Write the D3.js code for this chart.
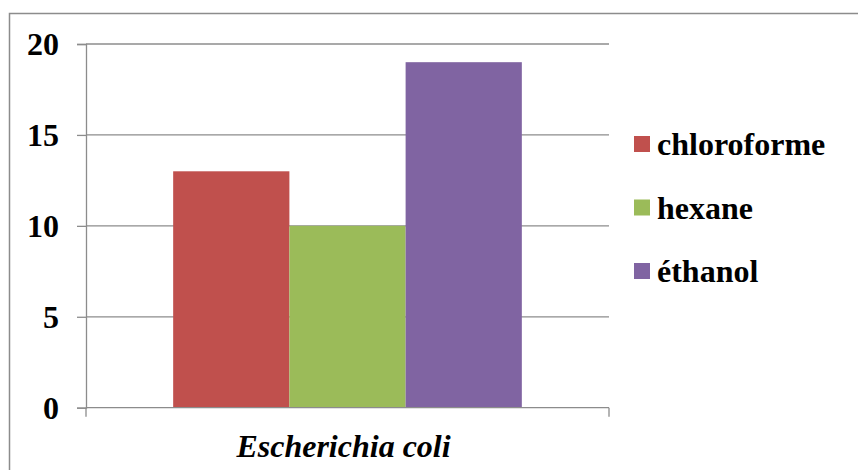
<!DOCTYPE html>
<html>
<head>
<meta charset="utf-8">
<script src="https://cdn.jsdelivr.net/npm/d3@7"></script>
<style>
  html, body { margin: 0; padding: 0; background: #fff; }
  svg { display: block; }
</style>
</head>
<body>
<svg id="chart" width="858" height="470"></svg>
<script>
const categories = ["Escherichia coli"];
const seriesNames = ["chloroforme", "hexane", "éthanol"];
const seriesValues = [13, 10, 19];
const seriesColors = ["#c0504d", "#9bbb59", "#8064a2"];
const yTicks = [0, 5, 10, 15, 20];

const FONT = "'Liberation Serif'";
const svg = d3.select("#chart");
const plot = { left: 86, right: 609, top: 44, bottom: 407.7 };
const gridColor = "#8c8c8c";

function styleText(sel, italic) {
  sel.style("font-family", FONT).style("font-weight", "bold").style("font-size", "32px")
     .style("font-style", italic ? "italic" : "normal").style("fill", "#000");
}

// chart border (only left and top visible in reference)
svg.append("rect")
  .attr("x", 9.5).attr("y", 13.5)
  .attr("width", 900).attr("height", 500)
  .attr("fill", "none").attr("stroke", gridColor).attr("stroke-width", 1.5);

const y = d3.scaleLinear().domain([0, 20]).range([plot.bottom, plot.top]);
const x0 = d3.scaleBand().domain(categories).range([plot.left, plot.right]).padding(0);
const x1 = d3.scaleBand().domain(seriesNames).range([0, x0.bandwidth()])
  .paddingInner(0).paddingOuter(0.75);

// gridlines
svg.append("g").selectAll("line").data(yTicks.filter(t => t > 0)).join("line")
  .attr("x1", plot.left).attr("x2", plot.right)
  .attr("y1", d => y(d)).attr("y2", d => y(d))
  .attr("stroke", gridColor).attr("stroke-width", 1.3);

// bars
const bars = svg.append("g");
categories.forEach(cat => {
  bars.selectAll("rect.s").data(seriesNames).join("rect")
    .attr("x", (d) => x0(cat) + x1(d))
    .attr("width", x1.bandwidth())
    .attr("y", (d, i) => y(seriesValues[i]))
    .attr("height", (d, i) => y(0) - y(seriesValues[i]))
    .attr("fill", (d, i) => seriesColors[i]);
});

// y axis
const yAxis = d3.axisLeft(y).tickValues(yTicks).tickSize(9).tickPadding(18).tickFormat(d3.format("d"));
const gy = svg.append("g").attr("transform", `translate(${plot.left},0)`).call(yAxis);
gy.select(".domain").attr("stroke", gridColor).attr("stroke-width", 1.3);
gy.selectAll(".tick line").attr("stroke", gridColor).attr("stroke-width", 1.3);
gy.selectAll(".tick text").call(styleText, false).attr("dy", "0.34em");

// x axis
const gx = svg.append("g").attr("transform", `translate(0,${plot.bottom})`);
gx.append("line").attr("x1", plot.left).attr("x2", plot.right).attr("y1", 0).attr("y2", 0)
  .attr("stroke", gridColor).attr("stroke-width", 1.3);
const boundaries = [plot.left].concat(categories.map(c => x0(c) + x0.bandwidth()));
gx.selectAll("line.tk").data(boundaries).join("line").attr("class", "tk")
  .attr("x1", d => d).attr("x2", d => d).attr("y1", 0).attr("y2", 9)
  .attr("stroke", gridColor).attr("stroke-width", 1.3);
gx.selectAll("text.cat").data(categories).join("text").attr("class", "cat")
  .attr("x", d => x0(d) + x0.bandwidth() / 2 - 4)
  .attr("y", 49)
  .attr("text-anchor", "middle")
  .call(styleText, true)
  .text(d => d);

// legend
const legend = svg.append("g").attr("transform", "translate(634,0)");
const legendRows = legend.selectAll("g").data(seriesNames).join("g")
  .attr("transform", (d, i) => `translate(0,${155 + i * 63.5})`);
legendRows.append("rect").attr("x", 0).attr("y", -19).attr("width", 16).attr("height", 16)
  .attr("fill", (d, i) => seriesColors[i]);
legendRows.append("text").attr("x", 23).attr("y", 0).call(styleText, false).text(d => d);
</script>
</body>
</html>
